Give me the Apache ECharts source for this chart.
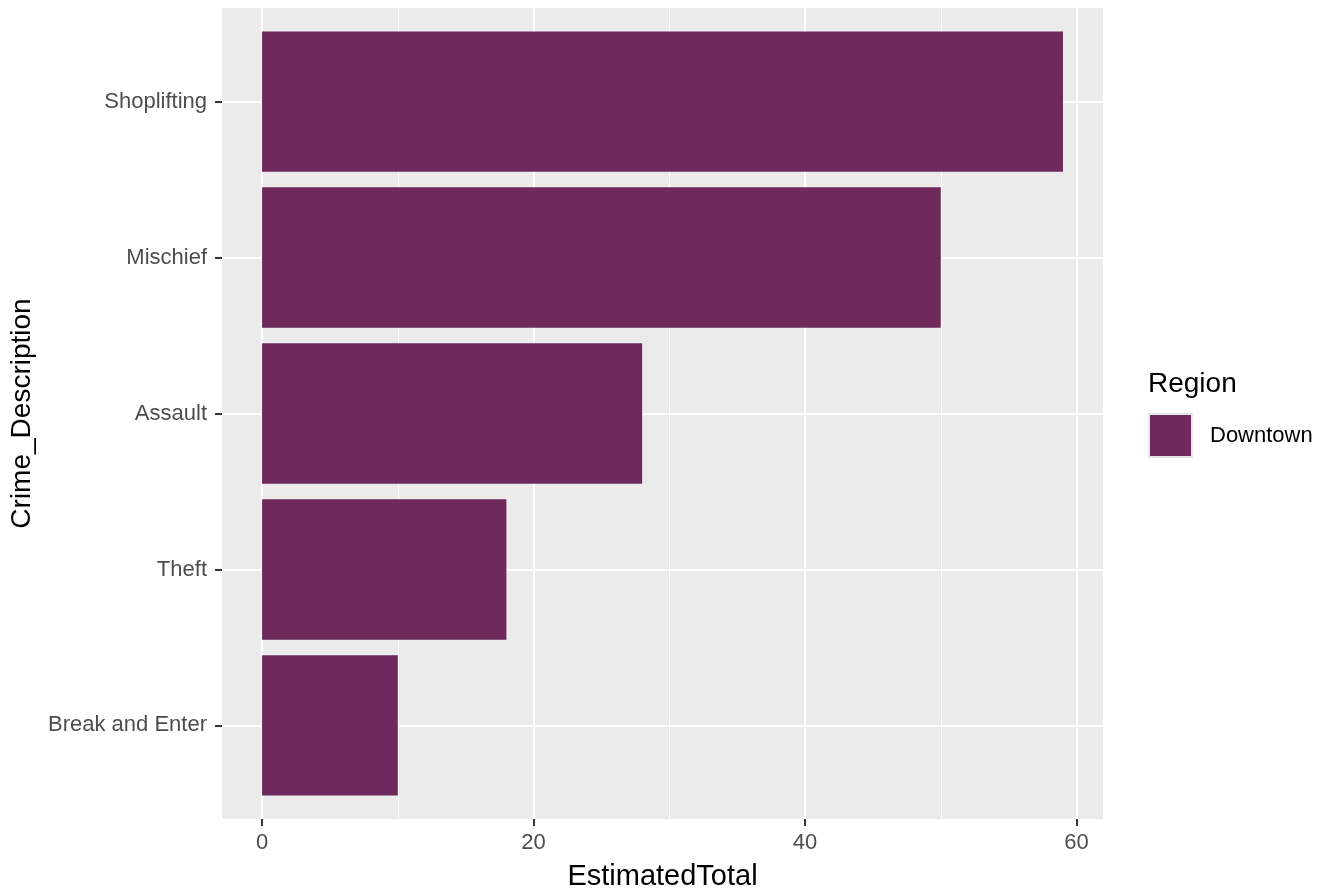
<!DOCTYPE html>
<html>
<head>
<meta charset="utf-8">
<script src="https://cdn.jsdelivr.net/npm/echarts@6/dist/echarts.min.js"></script>
<style>
html,body{margin:0;padding:0;background:#fff;}
#chart{width:1322px;height:894px;}
</style>
</head>
<body>
<div id="chart"></div>
<script>
// Data
const categories = ['Break and Enter', 'Theft', 'Assault', 'Mischief', 'Shoplifting'];
const estimatedTotal = [10, 18, 28, 50, 59];
const seriesName = 'Downtown';
const xTickValues = [0, 20, 40, 60];
const xMinorValues = [10, 30, 50];
const yTickValues = [1, 2, 3, 4, 5];

const FONT = "'Liberation Sans', Arial, sans-serif";
const BAR_COLOR = '#6F295D';

const chart = echarts.init(document.getElementById('chart'), null, {renderer: 'canvas'});

const barData = categories.map((c, i) => [estimatedTotal[i], i + 1]);

const option = {
  animation: false,
  textStyle: {fontFamily: FONT},
  title: {
    text: 'Region',
    left: 1148, top: 370, padding: 0,
    textStyle: {fontFamily: FONT, fontSize: 28, fontWeight: 'normal', color: '#000'}
  },
  legend: {
    left: 1148, top: 413, padding: 0,
    itemWidth: 43, itemHeight: 43,
    data: [{name: seriesName, icon: 'rect'}],
    itemStyle: {borderColor: '#E6E6E6', borderWidth: 2},
    textStyle: {fontFamily: FONT, fontSize: 22, color: '#000', padding: [0, 0, 0, 13]}
  },
  grid: {
    left: 222, top: 8, right: 219, bottom: 75,
    containLabel: false,
    outerBoundsMode: 'none',
    show: true, backgroundColor: '#EBEBEB', borderWidth: 0
  },
  xAxis: [{
    type: 'value', min: -2.95, max: 61.95, position: 'bottom',
    name: 'EstimatedTotal', nameLocation: 'middle', nameGap: 43, nameMoveOverlap: false,
    nameTextStyle: {fontFamily: FONT, fontSize: 29, color: '#000'},
    axisLine: {show: false, onZero: false},
    axisTick: {show: true, length: 7, customValues: xTickValues, lineStyle: {color: '#333333', width: 2}},
    axisLabel: {customValues: xTickValues, color: '#4D4D4D', fontSize: 22, fontFamily: FONT, margin: 13},
    splitLine: {show: true, lineStyle: {color: '#FFFFFF', width: 2}}
  }, {
    type: 'value', min: -2.95, max: 61.95, position: 'top',
    axisLine: {show: false, onZero: false},
    axisTick: {show: false, customValues: xMinorValues},
    axisLabel: {show: false, customValues: xMinorValues},
    splitLine: {show: true, lineStyle: {color: '#FFFFFF', width: 1}}
  }],
  yAxis: {
    type: 'value', min: 0.4, max: 5.6,
    name: 'Crime_Description', nameLocation: 'middle', nameGap: 186, nameRotate: 90, nameMoveOverlap: false,
    nameTextStyle: {fontFamily: FONT, fontSize: 28, color: '#000'},
    axisLine: {show: false, onZero: false},
    axisTick: {show: true, length: 7, customValues: yTickValues, lineStyle: {color: '#333333', width: 2}},
    axisLabel: {
      customValues: yTickValues, color: '#4D4D4D', fontSize: 22, fontFamily: FONT, margin: 15,
      formatter: v => categories[Math.round(v) - 1] || ''
    },
    splitLine: {show: true, lineStyle: {color: '#FFFFFF', width: 2}}
  },
  series: [{
    name: seriesName,
    type: 'custom',
    xAxisIndex: 0, yAxisIndex: 0,
    itemStyle: {color: BAR_COLOR},
    encode: {x: 0, y: 1},
    data: barData,
    renderItem: function (params, api) {
      const v = api.value(0), c = api.value(1);
      const p0 = api.coord([0, c + 0.45]);
      const p1 = api.coord([v, c - 0.45]);
      return {
        type: 'rect',
        shape: {x: p0[0], y: p0[1], width: p1[0] - p0[0], height: p1[1] - p0[1]},
        style: {fill: BAR_COLOR}
      };
    },
    z: 5
  }]
};

chart.setOption(option);
</script>
</body>
</html>
